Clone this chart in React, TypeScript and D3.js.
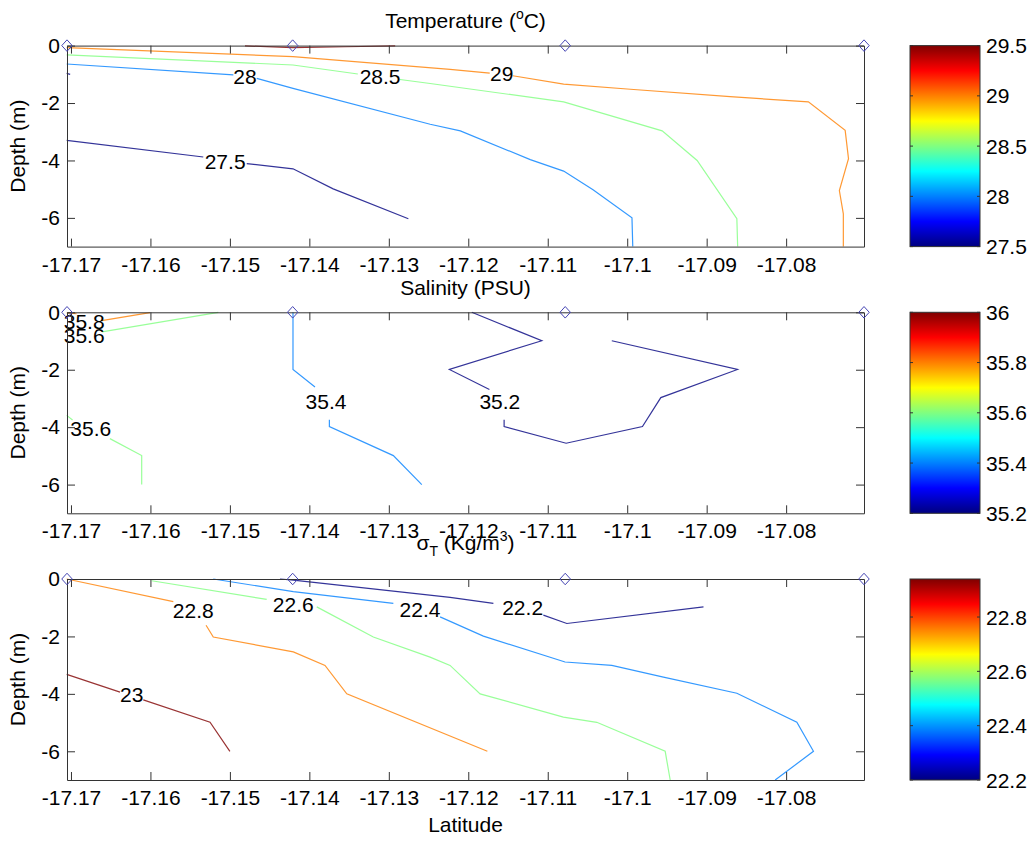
import React, { useEffect, useRef } from "react";
import * as d3 from "d3";

// station positions (latitude) and axis ticks
const stations = [-17.1705, -17.1421, -17.1078, -17.0702];
const latTicks = [-17.17, -17.16, -17.15, -17.14, -17.13, -17.12, -17.11, -17.1, -17.09, -17.08];
const depthTicks = [0, -2, -4, -6];

// contour lines, each a list of [latitude, depth] segments (broken at labels)
const temp275 = [
  [[-17.17054, -0.97], [-17.1701, -1.0]],
  [[-17.17054, -3.3], [-17.15335, -3.88]],
  [[-17.14788, -4.11], [-17.14206, -4.29], [-17.137, -4.99], [-17.12754, -6.03]],
];
const temp28 = [
  [[-17.17054, -0.64], [-17.14957, -1.02]],
  [[-17.14662, -1.14], [-17.14206, -1.49], [-17.1248, -2.74], [-17.121, -2.97], [-17.1122, -3.97], [-17.108, -4.37], [-17.1043, -5.02], [-17.0994, -6.0], [-17.0993, -7.0]],
];
const temp285 = [
  [[-17.17054, -0.325], [-17.14206, -0.675], [-17.1339, -0.99]],
  [[-17.1286, -1.18], [-17.1248, -1.32], [-17.108, -1.96], [-17.0956, -2.97], [-17.0912, -4.0], [-17.0862, -6.03], [-17.0861, -7.0]],
];
const temp29 = [
  [[-17.17054, -0.07], [-17.14206, -0.385], [-17.12229, -0.825], [-17.1173, -0.96]],
  [[-17.1144, -1.05], [-17.108, -1.34], [-17.0996, -1.52], [-17.08705, -1.78], [-17.0772, -1.96], [-17.07257, -2.95], [-17.07215, -3.94], [-17.0733, -5.05], [-17.0728, -5.86], [-17.0728, -7.0]],
];
const temp295 = [[[-17.1481, -0.01], [-17.1421, -0.07], [-17.1355, -0.04], [-17.1292, -0.01]]];
const tempLabels: [number, number, string][] = [
  [-17.1506, -4.03, "27.5"],
  [-17.1481, -1.06, "28"],
  [-17.1311, -1.07, "28.5"],
  [-17.1158, -0.97, "29"],
];

const sal352 = [
  [[-17.11956, 0], [-17.11075, -0.99], [-17.12238, -1.99], [-17.11734, -2.69]],
  [[-17.11549, -3.74], [-17.11549, -3.98], [-17.10769, -4.56], [-17.09808, -3.98], [-17.09577, -2.97], [-17.08612, -1.99], [-17.10194, -0.99]],
];
const sal354 = [
  [[-17.14206, 0], [-17.14206, -1.99], [-17.13929, -2.6]],
  [[-17.13748, -3.74], [-17.13748, -3.98], [-17.12943, -4.99], [-17.12585, -6.0]],
];
const sal356 = [
  [[-17.1661, -0.68], [-17.15146, 0]],
  [[-17.17054, -3.59], [-17.1698, -3.75]],
  [[-17.1651, -4.4], [-17.1611, -4.99], [-17.1611, -6.0]],
];
const sal358 = [
  [[-17.17054, -0.02], [-17.1693, -0.05]],
  [[-17.16614, -0.29], [-17.16006, -0.01]],
];
const salLabels: [number, number, string][] = [
  [-17.16834, -0.33, "35.8"],
  [-17.16834, -0.79, "35.6"],
  [-17.16751, -4.03, "35.6"],
  [-17.1379, -3.09, "35.4"],
  [-17.11603, -3.1, "35.2"],
];

const dens222 = [
  [[-17.14369, 0], [-17.14202, -0.04], [-17.12229, -0.64], [-17.11684, -0.85]],
  [[-17.11055, -1.26], [-17.1076, -1.55], [-17.0904, -0.97]],
];
const dens224 = [
  [[-17.15209, 0], [-17.14202, -0.44], [-17.12943, -0.85]],
  [[-17.12355, -1.32], [-17.1181, -1.99], [-17.10782, -2.89], [-17.10194, -3.01], [-17.09544, -3.42], [-17.0862, -3.98], [-17.07865, -4.99], [-17.07656, -6.0], [-17.08138, -7.0]],
];
const dens226 = [
  [[-17.15984, -0.06], [-17.14537, -0.71]],
  [[-17.13907, -0.97], [-17.13195, -2.02], [-17.12481, -2.72], [-17.12229, -3.01], [-17.11851, -4.0], [-17.10803, -4.81], [-17.10383, -4.99], [-17.09522, -6.0], [-17.09459, -7.0]],
];
const dens228 = [
  [[-17.17054, 0], [-17.15712, -0.79]],
  [[-17.153, -1.61], [-17.15209, -2.02], [-17.14202, -2.54], [-17.13803, -3.01], [-17.13529, -4.0], [-17.1176, -6.0]],
];
const dens23 = [
  [[-17.17054, -3.32], [-17.16383, -3.94]],
  [[-17.1609, -4.21], [-17.1525, -4.99], [-17.15, -6.0]],
];
const densLabels: [number, number, string][] = [
  [-17.15461, -1.1, "22.8"],
  [-17.14202, -0.89, "22.6"],
  [-17.12607, -1.05, "22.4"],
  [-17.11316, -1.0, "22.2"],
  [-17.16236, -4.02, "23"],
];

// colour bar limits and ticks (line colour range may differ from the bar)
const tempRange = [27.5, 29.5];
const tempBarTicks = [27.5, 28, 28.5, 29, 29.5];
const salRange = [35.2, 36];
const salBarTicks = [35.2, 35.4, 35.6, 35.8, 36];
const densRange = [22.2, 22.94];
const densLineRange = [22.2, 23];
const densBarTicks = [22.2, 22.4, 22.6, 22.8];

const FONT = "'Liberation Sans', Arial, Helvetica, sans-serif";
const FS = 21;
const AXIS = "#333";

// matlab jet colormap
const jet = (t: number) => {
  const c = (v: number) => Math.round(255 * Math.max(0, Math.min(1, v)));
  return d3.rgb(c(1.5 - Math.abs(4 * t - 3)), c(1.5 - Math.abs(4 * t - 2)), c(1.5 - Math.abs(4 * t - 1))).formatHex();
};

const diamond = {
  draw(ctx: any, size: number) {
    const r = Math.sqrt(size) / 2;
    ctx.moveTo(0, -r * 1.1);
    ctx.lineTo(r, 0);
    ctx.lineTo(0, r * 1.1);
    ctx.lineTo(-r, 0);
    ctx.closePath();
  },
};

const App = () => {
  const ref = useRef<SVGSVGElement>(null);

  useEffect(() => {
    const svg = d3.select(ref.current);
    svg.selectAll("*").remove();

    const left = 67, right = 864, h = 201;
    const cbL = 910, cbR = 980;

    const panels = [
      {
        top: 45.6, range: tempRange, lineRange: tempRange, barTicks: tempBarTicks, labels: tempLabels,
        lines: [[27.5, temp275], [28, temp28], [28.5, temp285], [29, temp29], [29.5, temp295]],
        title: [["Temperature (", 0, FS], ["o", -9, 14], ["C)", 9, FS]],
        titleY: 28,
      },
      {
        top: 312.3, range: salRange, lineRange: salRange, barTicks: salBarTicks, labels: salLabels,
        lines: [[35.2, sal352], [35.4, sal354], [35.6, sal356], [35.8, sal358]],
        title: [["Salinity (PSU)", 0, FS]],
        titleY: 295,
      },
      {
        top: 579, range: densRange, lineRange: densLineRange, barTicks: densBarTicks, labels: densLabels,
        lines: [[22.2, dens222], [22.4, dens224], [22.6, dens226], [22.8, dens228], [23, dens23]],
        title: [["σ", 0, FS], ["T", 6, 14], [" (Kg/m", -6, FS], ["3", -9, 14], [")", 9, FS]],
        titleY: 550,
      },
    ];

    const x = d3.scaleLinear().domain([stations[0], stations[3]]).range([left, right]);
    const fmt = (d: any) => String(+(+d).toFixed(2));

    panels.forEach((p, i) => {
      const y = d3.scaleLinear().domain([-7, 0]).range([p.top + h, p.top]);
      const c = d3.scaleLinear().domain(p.lineRange).range([0, 1]).clamp(true);
      const g = svg.append("g");

      // contour lines
      const line = d3.line<number[]>().x((d) => x(d[0])).y((d) => y(d[1]));
      p.lines.forEach(([level, segs]: any) => {
        segs.forEach((s: number[][]) => {
          g.append("path")
            .attr("d", line(s))
            .attr("fill", "none")
            .attr("stroke", jet(c(level)))
            .attr("stroke-opacity", 0.8)
            .attr("stroke-width", 1.2);
        });
      });

      // contour labels
      g.selectAll(".clab")
        .data(p.labels)
        .enter()
        .append("text")
        .attr("x", (d) => x(d[0]))
        .attr("y", (d) => y(d[1]))
        .attr("dy", "0.36em")
        .attr("text-anchor", "middle")
        .attr("font-family", FONT)
        .attr("font-size", FS)
        .text((d) => d[2]);

      // axes (inward ticks on all four sides)
      const styleAxis = (a: any) => {
        a.attr("font-size", FS).attr("font-family", FONT);
        a.select(".domain").attr("stroke", AXIS);
        a.selectAll(".tick line").attr("stroke", AXIS);
        a.selectAll(".tick text").attr("fill", "#000");
      };
      g.append("g")
        .attr("transform", `translate(0,${p.top + h})`)
        .call(d3.axisBottom(x).tickValues(latTicks).tickFormat(fmt).tickSizeInner(-8).tickSizeOuter(0).tickPadding(10))
        .call(styleAxis);
      g.append("g")
        .attr("transform", `translate(0,${p.top})`)
        .call(d3.axisTop(x).tickValues(latTicks).tickFormat(() => "").tickSizeInner(-8).tickSizeOuter(0))
        .call(styleAxis);
      g.append("g")
        .attr("transform", `translate(${left},0)`)
        .call(d3.axisLeft(y).tickValues(depthTicks).tickFormat(fmt).tickSizeInner(-8).tickSizeOuter(0).tickPadding(7))
        .call(styleAxis);
      g.append("g")
        .attr("transform", `translate(${right},0)`)
        .call(d3.axisRight(y).tickValues(depthTicks).tickFormat(() => "").tickSizeInner(-8).tickSizeOuter(0))
        .call(styleAxis);

      // station markers
      g.selectAll(".stn")
        .data(stations)
        .enter()
        .append("path")
        .attr("d", d3.symbol(diamond as any, 110) as any)
        .attr("transform", (d) => `translate(${x(d)},${y(0)})`)
        .attr("fill", "none")
        .attr("stroke", "#4646b4")
        .attr("stroke-width", 1);

      // title
      const t = g.append("text")
        .attr("x", (left + right) / 2)
        .attr("y", p.titleY)
        .attr("text-anchor", "middle")
        .attr("font-family", FONT)
        .attr("font-size", FS);
      p.title.forEach(([s, dy, fs]: any) => {
        t.append("tspan").attr("dy", dy).attr("font-size", fs).text(s);
      });

      // y label
      g.append("text")
        .attr("transform", `translate(25,${p.top + h / 2}) rotate(-90)`)
        .attr("text-anchor", "middle")
        .attr("font-family", FONT)
        .attr("font-size", FS)
        .text("Depth (m)");

      // colour bar
      const cy = d3.scaleLinear().domain(p.range).range([p.top + h, p.top]);
      const grad = svg.append("defs").append("linearGradient")
        .attr("id", `jet${i}`)
        .attr("x1", 0).attr("y1", 1).attr("x2", 0).attr("y2", 0);
      d3.range(0, 1.0001, 1 / 32).forEach((s) => {
        grad.append("stop").attr("offset", s).attr("stop-color", jet(s));
      });
      g.append("rect")
        .attr("x", cbL).attr("y", p.top)
        .attr("width", cbR - cbL).attr("height", h)
        .attr("fill", `url(#jet${i})`)
        .attr("stroke", AXIS)
        .attr("stroke-width", 1);
      p.barTicks.forEach((v: number) => {
        g.append("line").attr("x1", cbL).attr("x2", cbL + 3).attr("y1", cy(v)).attr("y2", cy(v)).attr("stroke", AXIS);
        g.append("line").attr("x1", cbR - 3).attr("x2", cbR).attr("y1", cy(v)).attr("y2", cy(v)).attr("stroke", AXIS);
        g.append("text")
          .attr("x", cbR + 6)
          .attr("y", cy(v))
          .attr("dy", "0.36em")
          .attr("font-family", FONT)
          .attr("font-size", FS)
          .text(String(v));
      });
    });

    // x label
    svg.append("text")
      .attr("x", (left + right) / 2)
      .attr("y", 832)
      .attr("text-anchor", "middle")
      .attr("font-family", FONT)
      .attr("font-size", FS)
      .text("Latitude");
  }, []);

  return (
    <svg
      ref={ref}
      width={1034}
      height={841}
      style={{ position: "absolute", left: 0, top: 0, background: "#fff" }}
    />
  );
};

export default App;
